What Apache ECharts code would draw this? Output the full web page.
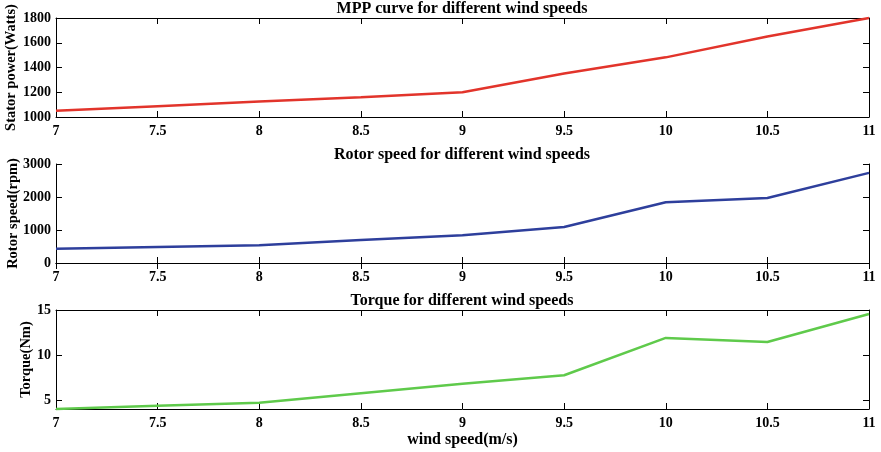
<!DOCTYPE html>
<html>
<head>
<meta charset="utf-8">
<script src="https://cdn.jsdelivr.net/npm/echarts@6/dist/echarts.min.js"></script>
<style>
  html, body { margin: 0; padding: 0; background: #fff; }
  #main { width: 881px; height: 452px; }
</style>
</head>
<body>
<div id="main"></div>
<script>
// wind speeds (m/s)
var windSpeed = [7, 7.5, 8, 8.5, 9, 9.5, 10, 10.5, 11];
var statorPower = [1050, 1087, 1125, 1160, 1200, 1352, 1482, 1650, 1800];
var rotorSpeed = [430, 485, 540, 700, 840, 1090, 1840, 1970, 2730];
var torque = [4.0, 4.37, 4.7, 5.75, 6.8, 7.75, 11.9, 11.45, 14.55];
var torqueTicks = [5, 10, 15];

var titles = ['MPP curve for different wind speeds', 'Rotor speed for different wind speeds', 'Torque for different wind speeds'];
var yNames = ['Stator power(Watts)', 'Rotor speed(rpm)', 'Torque(Nm)'];
var colors = ['#e2342b', '#2e3f9c', '#5fca4b'];

var font = 'Liberation Serif, Times New Roman, serif';
function txt(size) {
  return { fontFamily: font, fontWeight: 'bold', fontSize: size, color: '#000' };
}

var tops = [18, 164, 310];
var nameGaps = [37, 35, 22];
var myChart = echarts.init(document.getElementById('main'));

var grids = [], xAxes = [], yAxes = [], series = [], titleList = [];
var yConf = [
  { min: 1000, max: 1800, interval: 200 },
  { min: 0, max: 3000, interval: 1000 },
  { min: 4, max: 15 }
];
var data = [statorPower, rotorSpeed, torque];

for (var i = 0; i < 3; i++) {
  grids.push({ left: 56, right: 12, top: tops[i], height: 99, containLabel: false, outerBoundsMode: 'none' });
  titleList.push({
    text: titles[i], left: 462, top: tops[i] - 17, textAlign: 'center', padding: 0,
    textStyle: txt(16)
  });
  var tick = { show: true, inside: true, length: 6, lineStyle: { color: '#000' } };
  // bottom x axis with labels
  xAxes.push({
    type: 'value', gridIndex: i, min: 7, max: 11, interval: 0.5, position: 'bottom',
    axisLine: { show: true, lineStyle: { color: '#000', width: 1 } },
    axisTick: tick, splitLine: { show: false },
    axisLabel: Object.assign({ margin: 7 }, txt(14)),
    name: i === 2 ? 'wind speed(m/s)' : '', nameLocation: 'middle', nameGap: 23,
    nameMoveOverlap: false,
    nameTextStyle: txt(16)
  });
  // top x axis, ticks only
  xAxes.push({
    type: 'value', gridIndex: i, min: 7, max: 11, interval: 0.5, position: 'top',
    axisLine: { show: true, lineStyle: { color: '#000', width: 1 } },
    axisTick: tick, axisLabel: { show: false }, splitLine: { show: false }
  });
  var yl = {
    type: 'value', gridIndex: i, min: yConf[i].min, max: yConf[i].max, position: 'left',
    axisLine: { show: true, lineStyle: { color: '#000', width: 1 } },
    axisTick: tick, splitLine: { show: false },
    axisLabel: Object.assign({ margin: 5, formatter: function (v) { return String(v); } }, txt(14)),
    name: yNames[i], nameLocation: 'middle', nameRotate: 90, nameGap: nameGaps[i],
    nameMoveOverlap: false,
    nameTextStyle: txt(14.5)
  };
  var yr = {
    type: 'value', gridIndex: i, min: yConf[i].min, max: yConf[i].max, position: 'right',
    axisLine: { show: true, lineStyle: { color: '#000', width: 1 } },
    axisTick: tick, axisLabel: { show: false }, splitLine: { show: false }
  };
  if (yConf[i].interval) {
    yl.interval = yConf[i].interval; yr.interval = yConf[i].interval;
  } else {
    yl.axisLabel.customValues = torqueTicks;
    yl.axisTick = Object.assign({ customValues: torqueTicks }, tick);
    yr.axisTick = Object.assign({ customValues: torqueTicks }, tick);
  }
  yAxes.push(yl, yr);

  var pts = windSpeed.map(function (w, k) { return [w, data[i][k]]; });
  series.push({
    type: 'line', xAxisIndex: i * 2, yAxisIndex: i * 2, data: pts,
    symbol: 'none', lineStyle: { color: colors[i], width: 2.5 }, clip: false
  });
}

myChart.setOption({
  animation: false,
  title: titleList,
  grid: grids,
  xAxis: xAxes,
  yAxis: yAxes,
  series: series
});
</script>
</body>
</html>
